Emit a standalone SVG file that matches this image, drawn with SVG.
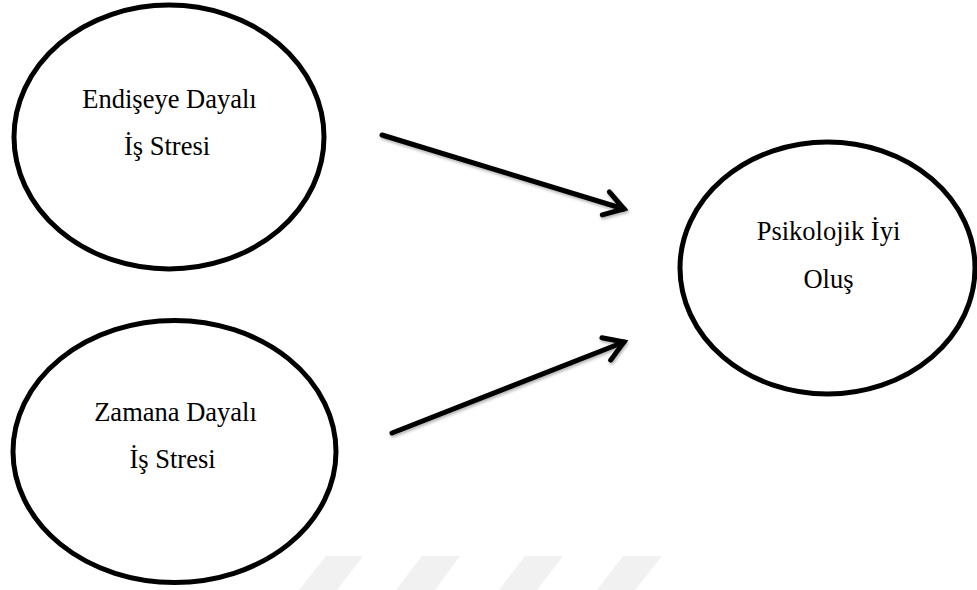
<svg xmlns="http://www.w3.org/2000/svg" width="977" height="590" viewBox="0 0 977 590">
  <style>
    .node { fill: #ffffff; stroke: #000000; stroke-width: 5; }
    .lbl { font-family: "Liberation Serif", "Times New Roman", serif; font-size: 26.5px; fill: #000000; text-anchor: middle; }
    .conn { stroke: #000000; stroke-width: 5; fill: none; stroke-linecap: round; }
    .wm { fill: #f1f1f1; }
  </style>
  <defs>
    <marker id="arrow" markerUnits="userSpaceOnUse" markerWidth="40" markerHeight="40" refX="0" refY="0" orient="auto" overflow="visible">
      <path d="M -19 -12 L 0 0 L -19 12" fill="none" stroke="#000000" stroke-width="5" stroke-linecap="round" stroke-linejoin="miter"/>
    </marker>
    <filter id="shadow" x="-10%" y="-20%" width="120%" height="140%">
      <feDropShadow dx="1" dy="2" stdDeviation="1.5" flood-color="#000000" flood-opacity="0.3"/>
    </filter>
  </defs>
  <rect width="977" height="590" fill="#ffffff"/>

  <g id="watermark">
    <polygon class="wm" points="326,556 363,556 337,590 299,590"/>
    <polygon class="wm" points="422,556 460,556 435,590 396,590"/>
    <polygon class="wm" points="525,556 563,556 537,590 499,590"/>
    <polygon class="wm" points="623,556 662,556 635,590 597,590"/>
  </g>

  <g id="node-endiseye">
    <ellipse class="node" cx="169" cy="137" rx="155" ry="132"/>
    <text class="lbl" x="169.5" y="108">Endişeye Dayalı</text>
    <text class="lbl" x="167" y="155">İş Stresi</text>
  </g>

  <g id="node-zamana">
    <ellipse class="node" cx="174.5" cy="451.5" rx="161.5" ry="131"/>
    <text class="lbl" x="175.5" y="421">Zamana Dayalı</text>
    <text class="lbl" x="172.5" y="468">İş Stresi</text>
  </g>

  <g id="node-psikolojik">
    <ellipse class="node" cx="827.5" cy="268" rx="147.5" ry="126"/>
    <text class="lbl" x="828.5" y="240">Psikolojik İyi</text>
    <text class="lbl" x="828.5" y="288">Oluş</text>
  </g>

  <g id="connectors" filter="url(#shadow)">
    <line class="conn" x1="382" y1="135" x2="624" y2="209" marker-end="url(#arrow)"/>
    <line class="conn" x1="392" y1="433" x2="624" y2="342" marker-end="url(#arrow)"/>
  </g>
</svg>
